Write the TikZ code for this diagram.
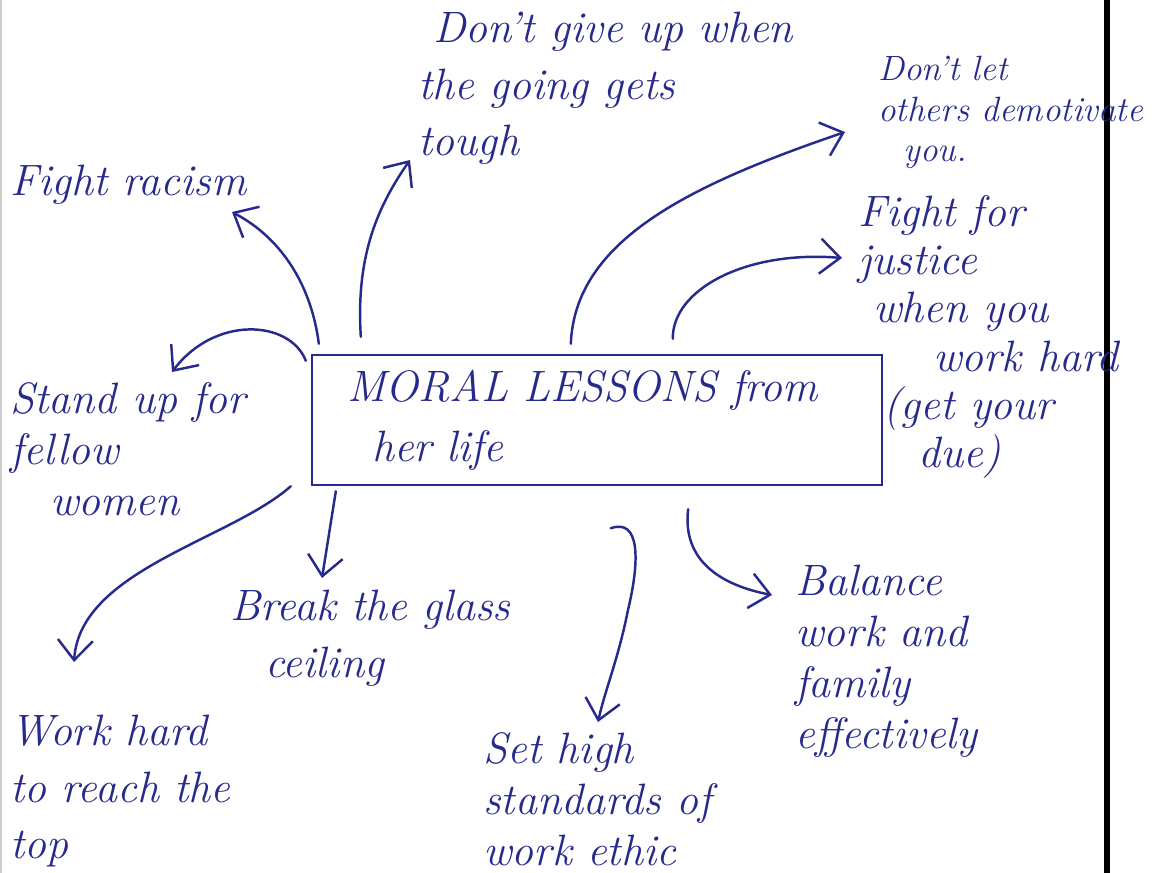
\documentclass[tikz,border=0pt]{standalone}
\usetikzlibrary{arrows.meta,calc}
\definecolor{ink}{RGB}{38,42,140}
\begin{document}
\begin{tikzpicture}[x=0.02cm,y=-0.02cm,
  hand/.style={font=\fontsize{25}{#1}\selectfont\itshape, text=ink, inner sep=0pt, anchor=north west, align=left},
  hand/.default=30,
  link/.style={draw=ink, line width=1.4pt, line cap=round, -{Straight Barb[length=4mm,width=7mm,line width=1.4pt]}}]
\useasboundingbox (0,0) rectangle (1161,873);
% page edges
\draw[black, line width=3.4pt] (1107,0) -- (1107,873);
\draw[gray!40, line width=0.8pt] (1,0) -- (1,873);
% central box
\node[draw=ink, line width=1.4pt, minimum width=11.4cm, minimum height=2.6cm, text width=10cm, inner xsep=0.7cm, align=left, font=\fontsize{25}{34}\selectfont\itshape, text=ink] (box) at (597,420) {MORAL LESSONS from\\\hspace*{0.5cm}her life};
% leaf texts
\node[hand] (racism) at (10,165) {Fight racism};
\node[hand=32] (giveup) at (418,12) {\hspace*{0.3cm}Don't give up when\\the going gets\\tough};
\node[hand=24, font=\fontsize{20}{23}\selectfont\itshape] (others) at (878,56) {Don't let\\others demotivate\\\hspace*{0.5cm}you.};
\node[hand=27.5] (justice) at (858,195) {Fight for\\justice\\\hspace*{0.3cm}when you\\\hspace*{1.5cm}work hard\\\hspace*{0.5cm}(get your\\\hspace*{1.2cm}due)};
\node[hand=29] (standup) at (10,382) {Stand up for\\fellow\\\hspace*{0.8cm}women};
\node[hand=32] (glass) at (230,590) {Break the glass\\\hspace*{0.7cm}ceiling};
\node[hand=32] (workhard) at (10,715) {Work hard\\to reach the\\top};
\node[hand=29] (standards) at (483,732) {Set high\\standards of\\work ethic};
\node[hand=29] (balance) at (795,565) {Balance\\work and\\family\\effectively};
% connectors
\coordinate (t1) at (232,212);
\coordinate (t2) at (410,160);
\coordinate (t3) at (845,132);
\coordinate (t4) at (842,258);
\coordinate (t5) at (172,372);
\coordinate (t6) at (74,662);
\coordinate (t7) at (322,578);
\coordinate (t8) at (598,722);
\coordinate (t9) at (772,595);
\draw[link] ([shift={(8,-10)}]box.north west) .. controls (312,290) and (285,240) .. (t1);
\draw[link] ([shift={(50,-17)}]box.north west) .. controls (356,260) and (375,210) .. (t2);
\draw[link] ([shift={(260,-10)}]box.north west) .. controls (575,240) and (690,185) .. (t3);
\draw[link] ([shift={(362,-15)}]box.north west) .. controls (672,290) and (745,250) .. (t4);
\draw[link] ([shift={(-5,7)}]box.north west) .. controls (290,320) and (215,315) .. (t5);
\draw[link] ([shift={(-20,0)}]box.south west) .. controls (230,540) and (80,570) .. (t6);
\draw[link] ([shift={(25,5)}]box.south west) -- (t7);
\draw[link] ([shift={(300,42)}]box.south west) .. controls (640,518) and (640,560) .. (628,610) .. controls (618,660) and (605,690) .. (t8);
\draw[link] ([shift={(-195,23)}]box.south east) .. controls (682,560) and (720,585) .. (t9);
\end{tikzpicture}
\end{document}
